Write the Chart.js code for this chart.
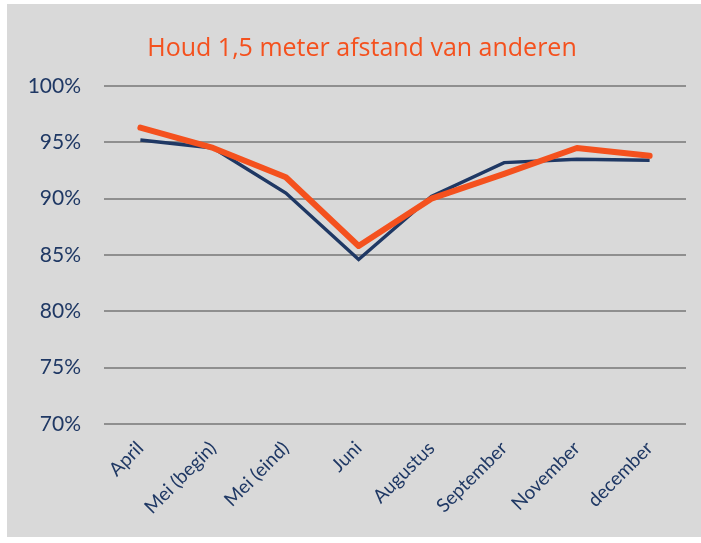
<!DOCTYPE html>
<html>
<head>
<meta charset="utf-8">
<script src="https://cdn.jsdelivr.net/npm/chart.js@4/dist/chart.umd.min.js"></script>
<style>
  html, body { margin: 0; padding: 0; background: #ffffff; }
  #box {
    position: absolute;
    left: 7px;
    top: 4px;
    width: 694px;
    height: 533px;
    background: #d9d9d9;
  }
</style>
</head>
<body>
<div id="box"><canvas id="chart" width="694" height="533"></canvas></div>
<script>
  // Data
  const months = ['April', 'Mei (begin)', 'Mei (eind)', 'Juni', 'Augustus', 'September', 'November', 'december'];
  const orangeSeries = [96.3, 94.5, 91.9, 85.8, 90.0, 92.2, 94.5, 93.8];
  const navySeries = [95.2, 94.5, 90.5, 84.6, 90.2, 93.2, 93.5, 93.4];
  const yTicks = [70, 75, 80, 85, 90, 95, 100];

  const navy = '#1f3864';
  const orange = '#f4511e';
  const titleText = 'Houd 1,5 meter afstand van anderen';

  // title is not centred on the canvas in the original, so draw it ourselves
  const titlePlugin = {
    id: 'offTitle',
    afterDraw(chart) {
      const ctx = chart.ctx;
      ctx.save();
      ctx.fillStyle = orange;
      ctx.font = '500 25px "Open Sans"';
      ctx.textAlign = 'center';
      ctx.textBaseline = 'middle';
      ctx.fillText(titleText, 355, 45);
      ctx.restore();
    }
  };

  new Chart(document.getElementById('chart'), {
    type: 'line',
    data: {
      labels: months,
      datasets: [
        {
          label: 'Oranje',
          data: orangeSeries,
          borderColor: orange,
          borderWidth: 6,
          borderCapStyle: 'round',
          borderJoinStyle: 'round',
          pointRadius: 0,
          tension: 0
        },
        {
          label: 'Blauw',
          data: navySeries,
          borderColor: navy,
          borderWidth: 3.5,
          borderJoinStyle: 'miter',
          pointRadius: 0,
          tension: 0
        }
      ]
    },
    plugins: [titlePlugin],
    options: {
      responsive: false,
      animation: false,
      layout: { padding: { left: 0, right: 15, top: 82, bottom: 0 } },
      plugins: {
        legend: { display: false },
        tooltip: { enabled: false },
        title: { display: false }
      },
      scales: {
        x: {
          offset: true,
          grid: { display: false },
          border: { display: false },
          ticks: {
            color: navy,
            font: { family: 'Lato', size: 19 },
            minRotation: 45,
            maxRotation: 45,
            padding: 5
          },
          afterFit: function (scale) { scale.height = 113; }
        },
        y: {
          min: 70,
          max: 100,
          border: { display: false },
          grid: { color: '#8f8f8f', lineWidth: 2, drawTicks: false },
          afterBuildTicks: function (scale) {
            scale.ticks = yTicks.map(v => ({ value: v }));
          },
          ticks: {
            color: navy,
            font: { family: 'Lato', size: 21 },
            padding: 23,
            callback: v => v + '%'
          },
          afterFit: function (scale) { scale.width = 97; }
        }
      }
    }
  });
</script>
</body>
</html>
